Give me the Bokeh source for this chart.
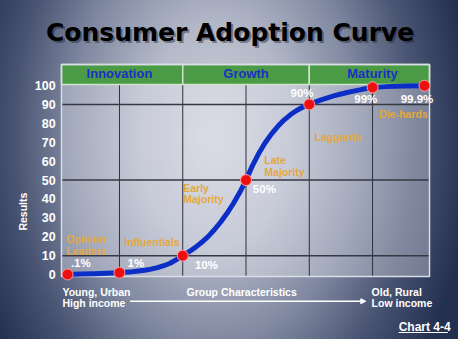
import numpy as np
from bokeh.plotting import figure
from bokeh.models import Range1d, ColumnDataSource, Arrow, NormalHead
from bokeh.core.properties import value
from bokeh.embed import file_html
from bokeh.resources import INLINE

# ---------------- data ----------------
chart_title = "Consumer Adoption Curve"
phases = ["Innovation", "Growth", "Maturity"]
phase_start = [0, 2, 4]
phase_end = [2, 4, 6]

groups = ["Opinion", "Leaders", "Influentials", "Early", "Majority",
          "Late", "Majority", "Laggards", "Die-hards"]

stage = [0.18, 1, 2, 3, 4, 5, 5.82]
adoption_pct = [0.1, 1, 10, 50, 90, 99, 99.9]
pct_labels = [".1%", "1%", "10%", "50%", "90%", "99%", "99.9%"]

curve_x = [0.18, 0.4, 0.6, 0.8, 1.0, 1.2, 1.4, 1.5, 1.6, 1.7, 1.8, 1.9, 2.0,
           2.1, 2.2, 2.3, 2.4, 2.5, 2.6, 2.7, 2.8, 2.9, 3.0, 3.1, 3.2, 3.3,
           3.4, 3.5, 3.6, 3.7, 3.8, 3.9, 4.0, 4.1, 4.2, 4.3, 4.4, 4.5, 4.6,
           4.7, 4.8, 4.9, 5.0, 5.2, 5.5, 5.82]
curve_y = [0.1, 0.3, 0.5, 0.7, 1.0, 1.5, 2.3, 2.9, 3.7, 4.7, 6.0, 7.9, 10.0,
           12.1, 14.4, 17.1, 20.1, 23.7, 27.8, 32.4, 37.6, 43.4, 50.0, 57.5,
           64.0, 69.6, 74.3, 78.3, 81.7, 84.5, 86.8, 88.6, 90.0, 91.3, 92.5,
           93.6, 94.6, 95.5, 96.3, 97.0, 97.7, 98.4, 99.0, 99.4, 99.7, 99.9]

y_ticks = [0, 10, 20, 30, 40, 50, 60, 70, 80, 90, 100]
grid_y = [10, 50, 90]
grid_x = [1, 2, 3, 4, 5]

y_axis_label = "Results"
x_left_label = ["Young, Urban", "High income"]
x_mid_label = "Group Characteristics"
x_right_label = ["Old, Rural", "Low income"]
chart_ref = "Chart 4-4"

# ---------------- styling ----------------
FONT = "Liberation Sans"
WHITE = "#ffffff"
ORANGE = "#e3a83c"
HEAD_BLUE = "#1b30c4"
GREEN = "#4b9a46"

# plot-area extent in data units
X0, X1 = 0.084, 5.9
Y0, Y1 = -1.0, 111.1
HDR = 100.5

p = figure(width=458, height=339, output_backend="svg", toolbar_location=None,
           x_range=Range1d(-0.880, 6.358), y_range=Range1d(-34.31, 144.94),
           x_axis_location=None, y_axis_location=None, min_border=0)
p.grid.visible = False
p.outline_line_color = None
p.styles = {"background": "radial-gradient(ellipse 56% 110% at 47% 40%, "
            "#cfd2dc 0%, #b3b8c8 30%, #7f88a0 56%, #4a5573 78%, #243050 100%)"}
p.border_fill_color = None
p.background_fill_color = None

# plot area
p.quad(left=X0, right=X1, bottom=Y0, top=Y1, fill_color="#f2f3f8",
       fill_alpha=0.33, line_color=None)

# grid lines
p.segment(x0=grid_x, x1=grid_x, y0=Y0, y1=HDR, line_color="#2c313b",
          line_width=1)
p.segment(x0=X0, x1=X1, y0=grid_y, y1=grid_y, line_color="#343944",
          line_width=1.5)

# header band
hdr = ColumnDataSource(dict(left=[max(a, X0) for a in phase_start],
                            right=[min(b, X1) for b in phase_end],
                            name=phases,
                            xc=[(a + b) / 2 for a, b in zip(phase_start, phase_end)]))
p.quad(left="left", right="right", bottom=HDR, top=Y1, source=hdr,
       fill_color=GREEN, line_color="#cfe5cb", line_width=1.5)
p.text(x="xc", y=106.1, text="name", source=hdr, text_color=HEAD_BLUE,
       text_font=value(FONT), text_font_style="bold", text_font_size="13px",
       text_align="center", text_baseline="middle")

# frame outline
p.quad(left=X0, right=X1, bottom=Y0, top=Y1, fill_color=None,
       line_color="#d9dde7", line_width=1.5)

# y tick labels
p.text(x=-0.008, y=y_ticks, text=[str(t) for t in y_ticks], text_color=WHITE,
       text_font=value(FONT), text_font_style="bold", text_font_size="12.5px",
       text_align="right", text_baseline="middle")

# curve + points
p.line(curve_x, curve_y, line_width=5, line_color="#0b2ec6",
       line_join="round", line_cap="round")
p.scatter(stage, adoption_pct, size=11, fill_color="#ee1010",
          line_color="#ff9c9c", line_width=1)

# percent labels
pct_lx = [0.389, 1.26, 2.374, 3.29, 3.885, 4.893, 5.702]
pct_ly = [6.06, 6.06, 5.05, 45.5, 96.0, 92.9, 92.9]
p.text(x=pct_lx, y=pct_ly, text=pct_labels, text_color=WHITE,
       text_font=value(FONT), text_font_style="bold", text_font_size="11.5px",
       text_align="center", text_baseline="middle")

# group labels
grp_lx = [0.160, 0.160, 1.076, 2.008, 2.008, 3.29, 3.29, 4.084, 5.107]
grp_ly = [18.7, 12.6, 17.2, 46.0, 39.9, 60.6, 54.5, 72.7, 84.8]
p.text(x=grp_lx, y=grp_ly, text=groups, text_color=ORANGE,
       text_font=value(FONT), text_font_style="bold", text_font_size="10.5px",
       text_align="left", text_baseline="middle")

# title with shadow
p.text(x=2.748, y=127.8, text=[chart_title], text_color="#1c2230",
       text_alpha=0.45, x_offset=2, y_offset=2,
       text_font=value("DejaVu Sans"), text_font_style="bold",
       text_font_size="25px", text_align="center", text_baseline="middle")
p.text(x=2.748, y=127.8, text=[chart_title], text_color="#000000",
       text_font=value("DejaVu Sans"), text_font_style="bold",
       text_font_size="25px", text_align="center", text_baseline="middle")

# y axis title
p.text(x=-0.527, y=33.3, text=[y_axis_label], angle=np.pi / 2,
       text_color=WHITE, text_font=value(FONT), text_font_style="bold",
       text_font_size="10.5px", text_align="center", text_baseline="middle")

# bottom annotations
p.text(x=[0.099, 0.099, 2.931, 4.985, 4.985],
       y=[-9.09, -15.15, -9.09, -9.09, -15.15],
       text=[x_left_label[0], x_left_label[1], x_mid_label,
             x_right_label[0], x_right_label[1]],
       text_align=["left", "left", "center", "left", "left"],
       text_color=WHITE, text_font=value(FONT), text_font_style="bold",
       text_font_size="10.5px", text_baseline="middle")
p.text(x=5.412, y=-27.8, text=[chart_ref], text_color=WHITE,
       text_font=value(FONT), text_font_style="bold", text_font_size="12px",
       text_align="left", text_baseline="middle")
p.segment(x0=5.412, x1=6.19, y0=-30.6, y1=-30.6, line_color=WHITE,
          line_width=1.2)

p.add_layout(Arrow(x_start=1.168, y_start=-14.1, x_end=4.893, y_end=-14.1,
                   line_color=WHITE, line_width=1.5,
                   end=NormalHead(size=5, fill_color=WHITE, line_color=WHITE)))

open("out.html", "w").write(file_html(p, INLINE))
